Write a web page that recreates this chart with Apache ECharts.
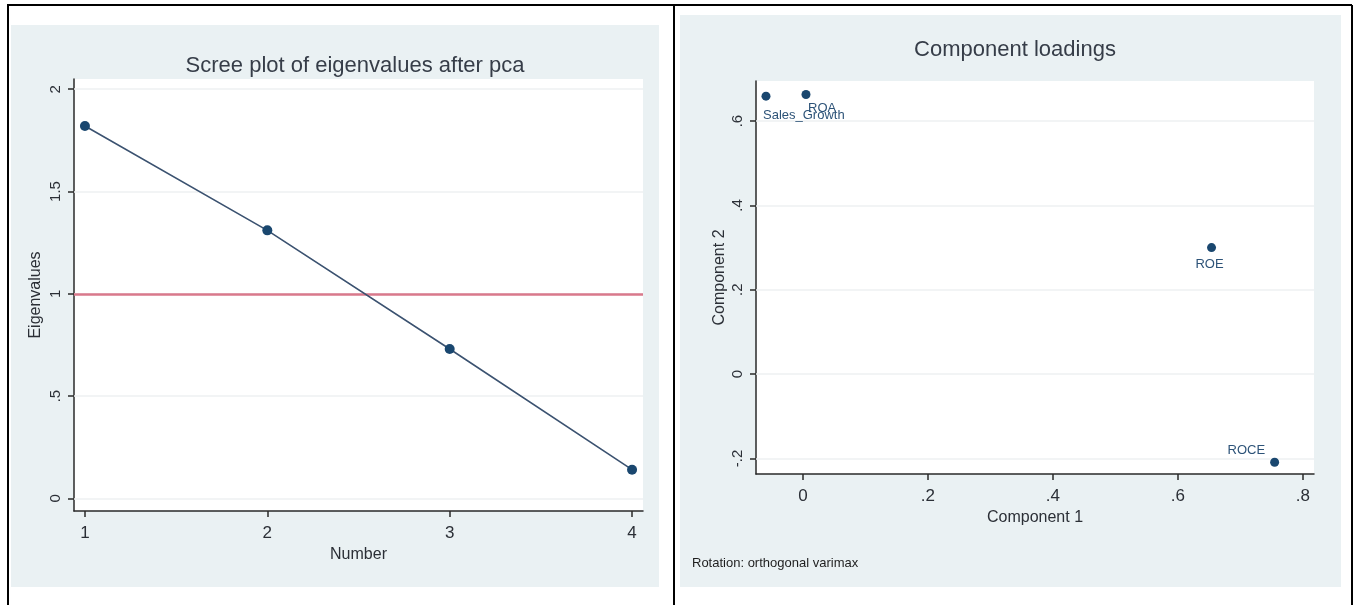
<!DOCTYPE html>
<html>
<head>
<meta charset="utf-8">
<script src="https://cdn.jsdelivr.net/npm/echarts@6/dist/echarts.min.js"></script>
<style>
html,body{margin:0;padding:0;background:#fff;}
#c{width:1357px;height:605px;}
</style>
</head>
<body>
<div id="c"></div>
<script>
// ---- Scree plot data ----
const screeNumbers = [1, 2, 3, 4];
const eigenvalues = [1.82, 1.31, 0.73, 0.14];
const screeXTicks = [1, 2, 3, 4];
const screeYTicks = [0, 0.5, 1, 1.5, 2];
const eigenThreshold = 1;

// ---- Component loadings data ----
const variables = ['Sales_Growth', 'ROA', 'ROE', 'ROCE'];
const component1 = [-0.059, 0.005, 0.654, 0.755];
const component2 = [0.659, 0.663, 0.300, -0.209];
const loadXTicks = [0, 0.2, 0.4, 0.6, 0.8];
const loadYTicks = [-0.2, 0, 0.2, 0.4, 0.6];

const FONT = "'Liberation Sans', Arial, Helvetica, sans-serif";
const NAVY = '#1a476f';
const TXT = '#2b2f36';
const BG = '#eaf1f3';

function stataNum(v) {
  let s = String(Math.round(v * 1000) / 1000);
  return s.replace(/^(-?)0\./, '$1.');
}

const labelPos = {
  'Sales_Growth': {position: 'bottom', align: 'left', offset: [-3, 3]},
  'ROA': {position: 'bottom', align: 'left', offset: [2, -2]},
  'ROE': {position: 'bottom', align: 'center', offset: [-2, 1]},
  'ROCE': {position: 'left', align: 'right', offset: [0, -12]}
};

const loadData = variables.map((n, i) => ({
  name: n,
  value: [component1[i], component2[i]],
  label: Object.assign({show: true, formatter: n, color: '#2d5378', fontSize: 13, fontFamily: FONT}, labelPos[n])
}));

const axisLineStyle = {color: '#2a2a2a', width: 1.5};

function valAxis(gridIndex, min, max, ticks, name, gap, isY) {
  return {
    type: 'value', gridIndex, min, max,
    name, nameLocation: 'middle', nameGap: gap,
    nameTextStyle: {fontFamily: FONT, fontSize: 16, color: TXT},
    axisLine: {show: true, onZero: false, lineStyle: axisLineStyle},
    axisTick: {show: true, length: 6, customValues: ticks, lineStyle: {color: '#2a2a2a', width: 1.5}},
    axisLabel: {show: true, customValues: ticks, formatter: stataNum, rotate: isY ? 90 : 0,
      margin: isY ? 11 : 14, fontFamily: FONT, fontSize: isY ? 15 : 17, color: TXT},
    splitLine: {show: false}
  };
}

const option = {
  animation: false,
  backgroundColor: '#fff',
  graphic: [
    {type: 'rect', z: -10, shape: {x: 11, y: 25, width: 648, height: 562}, style: {fill: BG}},
    {type: 'rect', z: -10, shape: {x: 680, y: 15, width: 661, height: 572}, style: {fill: BG}},
    {type: 'line', shape: {x1: 7, y1: 5, x2: 1352, y2: 5}, style: {stroke: '#000', lineWidth: 2}},
    {type: 'line', shape: {x1: 8, y1: 5, x2: 8, y2: 605}, style: {stroke: '#000', lineWidth: 2}},
    {type: 'line', shape: {x1: 674, y1: 5, x2: 674, y2: 605}, style: {stroke: '#000', lineWidth: 2}},
    {type: 'line', shape: {x1: 1352, y1: 5, x2: 1352, y2: 605}, style: {stroke: '#000', lineWidth: 2}},
    {type: 'text', left: 692, top: 557, style: {text: 'Rotation: orthogonal varimax', font: "13px " + FONT, fill: '#1e1e1e'}}
  ],
  title: [
    {text: 'Scree plot of eigenvalues after pca', left: 350, top: 50, textAlign: 'center',
      textStyle: {fontFamily: FONT, fontSize: 22, fontWeight: 'normal', color: '#363d48'}},
    {text: 'Component loadings', left: 1010, top: 34, textAlign: 'center',
      textStyle: {fontFamily: FONT, fontSize: 22, fontWeight: 'normal', color: '#363d48'}}
  ],
  grid: [
    {left: 74, top: 79, width: 569, height: 432, show: true, backgroundColor: '#fff', borderWidth: 0},
    {left: 756, top: 81, width: 558, height: 393, show: true, backgroundColor: '#fff', borderWidth: 0}
  ],
  xAxis: [
    valAxis(0, 0.94, 4.06, screeXTicks, 'Number', 35, false),
    valAxis(1, -0.075, 0.818, loadXTicks, 'Component 1', 35, false)
  ],
  yAxis: [
    valAxis(0, -0.062, 2.05, screeYTicks, 'Eigenvalues', 30, true),
    valAxis(1, -0.237, 0.695, loadYTicks, 'Component 2', 28, true)
  ],
  series: [
    {
      type: 'line', xAxisIndex: 0, yAxisIndex: 0, z: 1, data: [], silent: true,
      markLine: {silent: true, z: 1, symbol: 'none', label: {show: false},
        lineStyle: {color: '#eef1f2', width: 1.5, type: 'solid'},
        data: screeYTicks.map(v => ({yAxis: v}))}
    },
    {
      type: 'line', xAxisIndex: 0, yAxisIndex: 0, z: 2, data: [], silent: true,
      markLine: {silent: true, z: 2, symbol: 'none', label: {show: false},
        lineStyle: {color: '#d9798b', width: 2.5, type: 'solid'},
        data: [{yAxis: eigenThreshold}]}
    },
    {
      type: 'line', xAxisIndex: 0, yAxisIndex: 0, z: 10,
      data: screeNumbers.map((x, i) => [x, eigenvalues[i]]),
      symbol: 'circle', symbolSize: 10, showSymbol: true,
      itemStyle: {color: NAVY, opacity: 1},
      lineStyle: {color: '#3b5270', width: 1.6}
    },
    {
      type: 'line', xAxisIndex: 1, yAxisIndex: 1, z: 1, data: [], silent: true,
      markLine: {silent: true, z: 1, symbol: 'none', label: {show: false},
        lineStyle: {color: '#eef1f2', width: 1.5, type: 'solid'},
        data: loadYTicks.map(v => ({yAxis: v}))}
    },
    {
      type: 'scatter', xAxisIndex: 1, yAxisIndex: 1, z: 10,
      symbol: 'circle', symbolSize: 9,
      itemStyle: {color: NAVY, opacity: 1},
      data: loadData
    }
  ]
};

const chart = echarts.init(document.getElementById('c'), null, {renderer: 'canvas'});
chart.setOption(option);
</script>
</body>
</html>
